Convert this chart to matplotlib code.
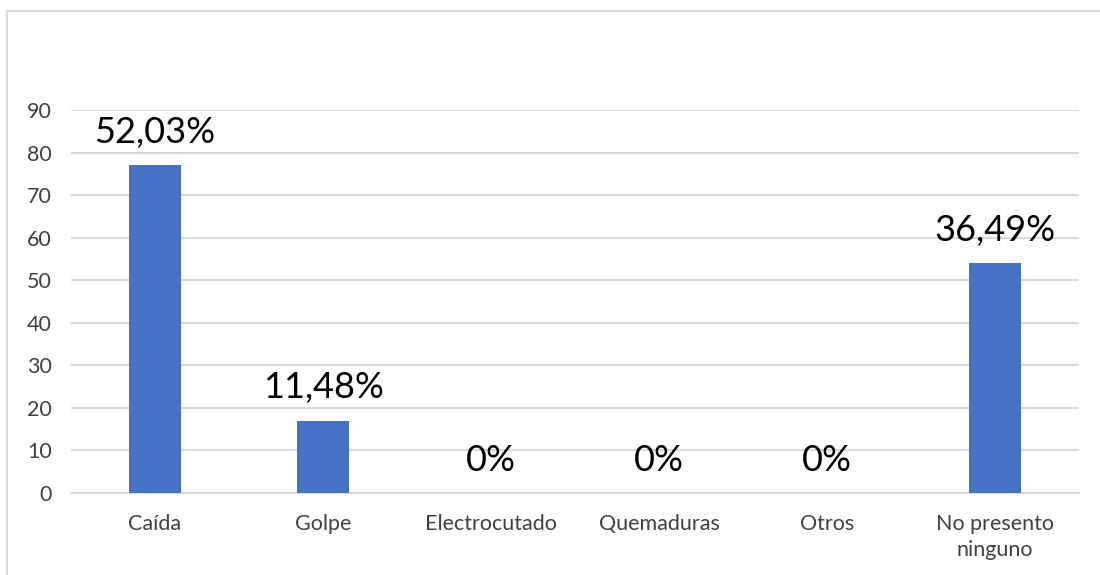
import matplotlib.pyplot as plt
from matplotlib.patches import Rectangle

categories = ['Caída', 'Golpe', 'Electrocutado', 'Quemaduras', 'Otros', 'No presento\nninguno']
counts = [77, 17, 0, 0, 0, 54]
labels = ['52,03%', '11,48%', '0%', '0%', '0%', '36,49%']

plt.rcParams['font.family'] = ['Lato', 'DejaVu Sans']

fig = plt.figure(figsize=(11, 5.75), dpi=100)
ax = fig.add_axes([71 / 1100, 1 - 493 / 575, 1008 / 1100, 383 / 575])

x = range(len(categories))
bars = ax.bar(x, counts, width=0.31, color='#4472C4', zorder=3)

for xi, c, lab in zip(x, counts, labels):
    ax.annotate(lab, (xi, c), xytext=(0, 16), textcoords='offset points',
                ha='center', va='baseline', fontsize=26, color='#000000')

ax.set_xlim(-0.5, len(categories) - 0.5)
ax.set_ylim(0, 90)
ax.set_yticks(range(0, 91, 10))
ax.set_xticks(list(x))
ax.set_xticklabels(categories, fontsize=15.5, color='#404040', linespacing=1.4)
ax.tick_params(axis='y', labelsize=15.5, labelcolor='#404040', length=0, pad=14)
ax.tick_params(axis='x', length=0, pad=15)
ax.yaxis.grid(True, color='#D9D9D9', linewidth=1.5, zorder=0)
for s in ['top', 'right', 'left']:
    ax.spines[s].set_visible(False)
ax.spines['bottom'].set_color('#D9D9D9')
ax.spines['bottom'].set_linewidth(1.5)

# chart frame
fig.patches.append(Rectangle((7 / 1100, -0.1), 1.1, 1 - 11 / 575 + 0.1,
                             transform=fig.transFigure, fill=False,
                             edgecolor='#D9D9D9', linewidth=1.5))

fig.savefig('out.png', dpi=100)
